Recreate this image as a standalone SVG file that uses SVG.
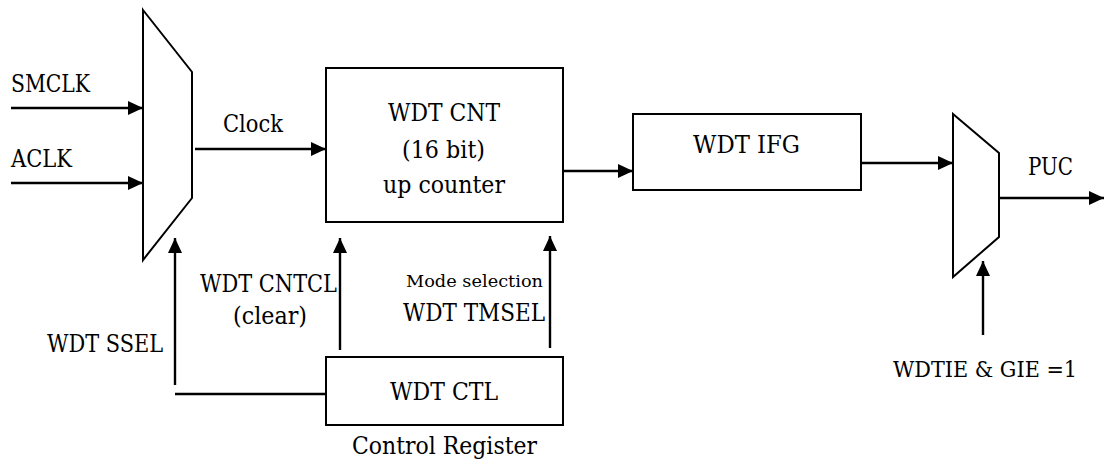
<svg xmlns="http://www.w3.org/2000/svg" width="1104" height="461" viewBox="0 0 1104 461">
<style>
text{font-family:"DejaVu Serif","Liberation Serif",serif;font-size:24.5px;fill:#000}
.sm{font-size:17px}
.md{font-size:22px}
.shape{fill:#fff;stroke:#000;stroke-width:2}
.wire{fill:none;stroke:#000;stroke-width:2.4}
.arr{marker-end:url(#ah)}
</style>
<defs>
<marker id="ah" viewBox="0 0 15 14" refX="15" refY="7" markerWidth="15" markerHeight="14" markerUnits="userSpaceOnUse" orient="auto">
<path d="M0,0 L15,7 L0,14 Z" fill="#000"/>
</marker>
</defs>
<rect width="1104" height="461" fill="#fff"/>
<g id="connectors">
<line class="wire arr" x1="11" y1="108" x2="143" y2="108"/>
<line class="wire arr" x1="11" y1="183" x2="143" y2="183"/>
<line class="wire arr" x1="195" y1="149" x2="326" y2="149"/>
<line class="wire arr" x1="175" y1="385" x2="175" y2="238"/>
<line class="wire" x1="175" y1="394" x2="326" y2="394"/>
<line class="wire arr" x1="340" y1="350" x2="340" y2="238"/>
<line class="wire arr" x1="550" y1="348" x2="550" y2="236"/>
<line class="wire arr" x1="563" y1="171" x2="633" y2="171"/>
<line class="wire arr" x1="861" y1="163" x2="953" y2="163"/>
<line class="wire arr" x1="999" y1="198" x2="1104" y2="198"/>
<line class="wire arr" x1="983" y1="335" x2="983" y2="261"/>
</g>
<g id="mux1">
<polygon class="shape" points="143,10 192,72 192,198 143,260"/>
</g>
<g id="cnt">
<rect class="shape" x="326" y="68" width="237" height="154"/>
<text x="388" y="121" textLength="112" lengthAdjust="spacingAndGlyphs">WDT CNT</text>
<text x="402" y="158" textLength="83" lengthAdjust="spacingAndGlyphs">(16 bit)</text>
<text x="383" y="193" textLength="122" lengthAdjust="spacingAndGlyphs">up counter</text>
</g>
<g id="ifg">
<rect class="shape" x="633" y="114" width="228" height="76"/>
<text x="693" y="153" textLength="107" lengthAdjust="spacingAndGlyphs">WDT IFG</text>
</g>
<g id="mux2">
<polygon class="shape" points="953,114 999,153 999,237 953,277"/>
</g>
<g id="ctl">
<rect class="shape" x="326" y="357" width="237" height="68"/>
<text x="390" y="400" textLength="108" lengthAdjust="spacingAndGlyphs">WDT CTL</text>
</g>
<g id="labels">
<text x="11" y="92" textLength="79" lengthAdjust="spacingAndGlyphs">SMCLK</text>
<text x="11" y="167" textLength="61" lengthAdjust="spacingAndGlyphs">ACLK</text>
<text x="223" y="132" textLength="60" lengthAdjust="spacingAndGlyphs">Clock</text>
<text x="200" y="292" textLength="137" lengthAdjust="spacingAndGlyphs">WDT CNTCL</text>
<text x="233" y="324" textLength="74" lengthAdjust="spacingAndGlyphs">(clear)</text>
<text x="47" y="352" textLength="116" lengthAdjust="spacingAndGlyphs">WDT SSEL</text>
<text class="sm" x="406" y="287" textLength="137" lengthAdjust="spacingAndGlyphs">Mode selection</text>
<text x="403" y="321" textLength="142" lengthAdjust="spacingAndGlyphs">WDT TMSEL</text>
<text x="352" y="454" textLength="185" lengthAdjust="spacingAndGlyphs">Control Register</text>
<text x="1028" y="175" textLength="45" lengthAdjust="spacingAndGlyphs">PUC</text>
<text class="md" x="893" y="377" textLength="184" lengthAdjust="spacingAndGlyphs">WDTIE &amp; GIE =1</text>
</g>
</svg>
